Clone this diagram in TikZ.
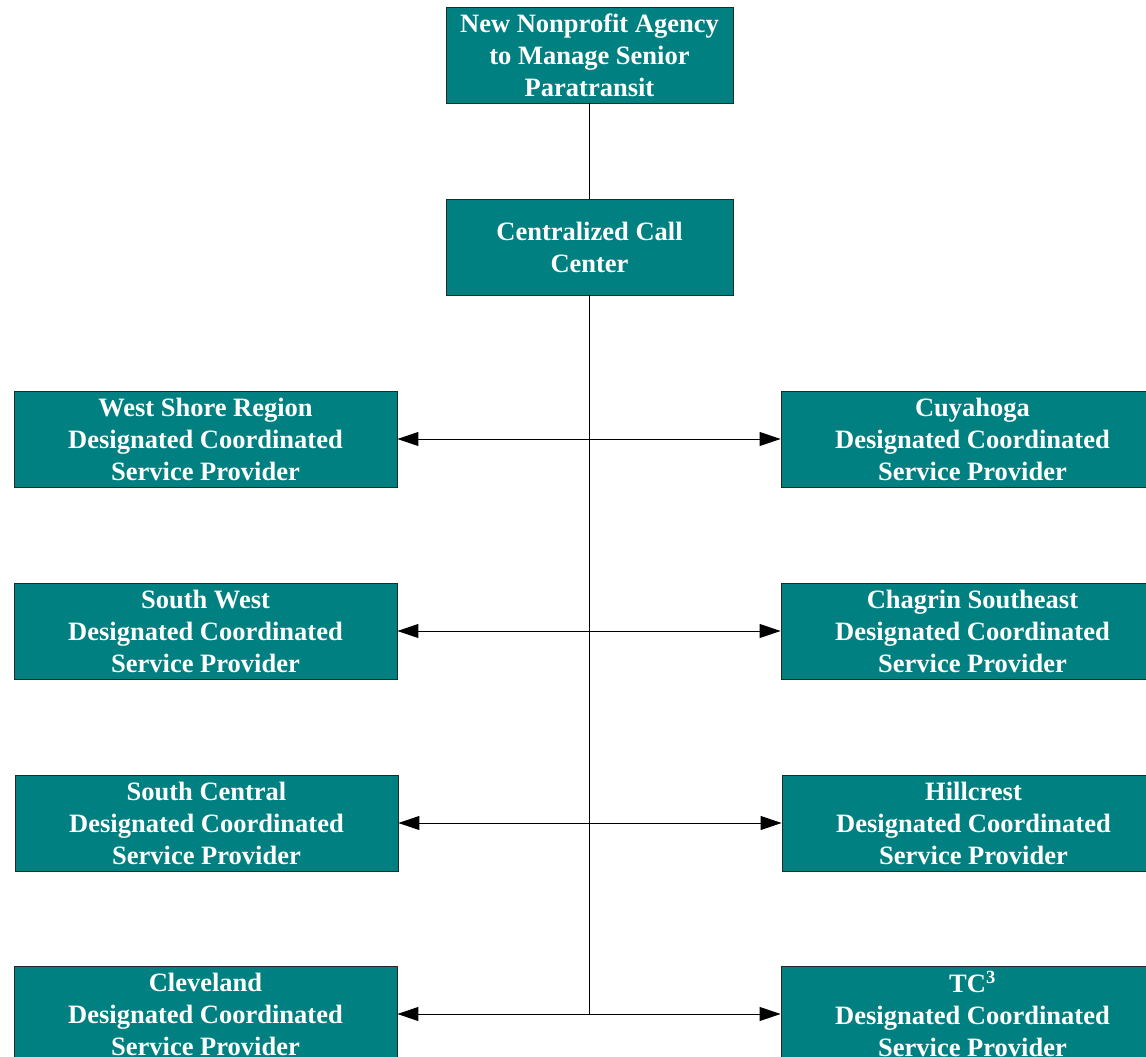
\documentclass[tikz,border=0pt]{standalone}
\usepackage{fontspec}
\setmainfont{Liberation Serif}
\usetikzlibrary{arrows.meta}
\definecolor{tealbox}{HTML}{008080}
\begin{document}
\begin{tikzpicture}[x=1pt,y=-1pt,
  box/.style={draw=black!85, line width=0.9pt, fill=tealbox, text=white,
    align=center, inner sep=0pt, minimum height=96pt,
    font=\fontsize{26.5}{32}\selectfont\bfseries},
  midbox/.style={box, minimum width=287pt},
  sidebox/.style={box, minimum width=383pt},
  link/.style={draw=black, line width=1pt},
  twoway/.style={link, {Triangle[length=21pt,width=14pt]}-{Triangle[length=21pt,width=14pt]}}]
\useasboundingbox (0,0) rectangle (1146,1057);

% top of the hierarchy
\node[midbox] (agency) at (589.5,55) {New Nonprofit Agency\\to Manage Senior\\Paratransit};
\node[midbox] (call) at (589.5,247) {Centralized Call\\Center};

% regional providers, west side
\node[sidebox] (west)  at (205.5,439)  {West Shore Region\\Designated Coordinated\\Service Provider};
\node[sidebox] (swest) at (205.5,631)  {South West\\Designated Coordinated\\Service Provider};
\node[sidebox] (scent) at (206.5,823)  {South Central\\Designated Coordinated\\Service Provider};
\node[sidebox] (cleve) at (205.5,1014) {Cleveland\\Designated Coordinated\\Service Provider};

% regional providers, east side
\node[sidebox] (cuya)  at (972.5,439)  {Cuyahoga\\Designated Coordinated\\Service Provider};
\node[sidebox] (chag)  at (972.5,631)  {Chagrin Southeast\\Designated Coordinated\\Service Provider};
\node[sidebox] (hill)  at (973.5,823)  {Hillcrest\\Designated Coordinated\\Service Provider};
\node[sidebox] (tcc)   at (972.5,1014) {TC\textsuperscript{3}\\Designated Coordinated\\Service Provider};

% trunk line
\coordinate (trunkend) at (call.south |- cleve.east);
\draw[link] (agency.south) -- (call.north);
\draw[link] (call.south) -- (trunkend);

% two-way links between paired providers
\draw[twoway] (west.east)  -- (cuya.west);
\draw[twoway] (swest.east) -- (chag.west);
\draw[twoway] (scent.east) -- (hill.west);
\draw[twoway] (cleve.east) -- (tcc.west);
\end{tikzpicture}
\end{document}
